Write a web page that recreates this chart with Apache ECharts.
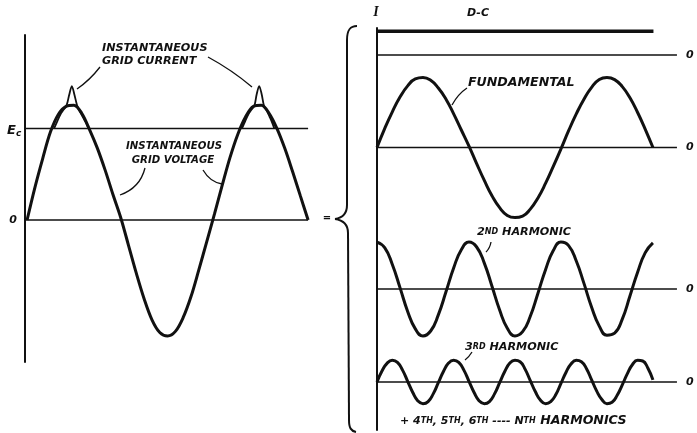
<!DOCTYPE html>
<html><head><meta charset="utf-8">
<script src="https://cdn.jsdelivr.net/npm/echarts/dist/echarts.min.js"></script>
<style>html,body{margin:0;padding:0;background:#fff}#c{width:697px;height:433px}</style>
</head><body><div id="c"></div>
<script>
// ---- phase positions (electrical degrees) ----
const phase15 = [0,15,30,45,60,75,90,105,120,135,150,165,180,195,210,225,240,255,270,285,300,315,330,345,360,375,390,405,420,435,450,465,480,495,510,525,540];
const phase10 = [0,10,20,30,40,50,60,70,80,90,100,110,120,130,140,150,160,170,180,190,200,210,220,230,240,250,260,270,280,290,300,310,320,330,340,350,360,370,380,390,400,410,420,430,440,450,460,470,480,490,500,510,520,530,540];

// ---- left panel: instantaneous grid voltage (relative units) ----
const gridVoltage = [0,0.28,0.53,0.76,0.91,0.98,0.99,0.92,0.78,0.62,0.43,0.22,0.02,-0.22,-0.46,-0.68,-0.86,-0.97,-1.0,-0.96,-0.84,-0.66,-0.43,-0.19,0.05,0.3,0.54,0.74,0.89,0.98,0.99,0.92,0.79,0.62,0.42,0.21,0];
const ecLevel = 0.79;
// instantaneous grid current pulses [phase, value]
const currentPulse1 = [[52,0.79],[58,0.85],[64,0.91],[70,0.95],[76,0.99],[81,1.08],[86,1.155],[91,1.08],[96,0.99],[102,0.93],[108,0.88],[113,0.84],[118,0.79]];
const currentPulse2 = [[413,0.79],[419,0.85],[425,0.91],[431,0.95],[437,0.99],[441,1.08],[446,1.155],[451,1.08],[455,0.99],[461,0.94],[466,0.89],[470,0.85],[475,0.79]];

// ---- right panel: components ----
const dcLevel = 0.34;
const fundamental = [0,0.27,0.51,0.72,0.88,0.98,1.0,0.96,0.85,0.69,0.48,0.25,0.02,-0.23,-0.47,-0.69,-0.86,-0.97,-1.0,-0.98,-0.88,-0.72,-0.51,-0.27,-0.02,0.24,0.48,0.69,0.86,0.97,1.0,0.97,0.87,0.71,0.5,0.26,0];
const harmonic2 = [0.67,0.59,0.35,0.02,-0.32,-0.57,-0.67,-0.6,-0.37,-0.04,0.3,0.56,0.67,0.6,0.37,0.04,-0.3,-0.56,-0.67,-0.61,-0.39,-0.06,0.28,0.55,0.67,0.62,0.4,0.08,-0.26,-0.53,-0.66,-0.63,-0.43,-0.1,0.24,0.52,0.66];
const harmonic3 = [0,0.16,0.27,0.31,0.28,0.17,0.01,-0.15,-0.27,-0.31,-0.28,-0.17,-0.01,0.15,0.27,0.31,0.28,0.17,0.01,-0.15,-0.27,-0.31,-0.28,-0.17,-0.01,0.15,0.27,0.31,0.29,0.18,0.02,-0.14,-0.26,-0.31,-0.28,-0.18,-0.02,0.14,0.26,0.31,0.29,0.19,0.03,-0.13,-0.25,-0.31,-0.29,-0.19,-0.04,0.12,0.25,0.31,0.3,0.2,0.03];

const leftSpan = [-4, 540];
const dcSpan = [0, 541];
const baseSpan = [0, 587];

// ---- build ----
const INK = '#111';
const FONT = 'DejaVu Sans';
const zip = (xs, ys) => xs.map((x, i) => [x, ys[i]]);
const hx = (g, min, max) => ({type:'value', gridIndex:g, min, max, show:false});
const hy = (g, min, max) => ({type:'value', gridIndex:g, min, max, show:false});
const frameY = (g, min, max, w) => ({type:'value', gridIndex:g, min, max,
  axisLine:{show:true, onZero:false, lineStyle:{color:INK, width:w}},
  axisTick:{show:false}, axisLabel:{show:false}, splitLine:{show:false}});
const line = (g, data, width, extra) => Object.assign({
  type:'line', xAxisIndex:g, yAxisIndex:g, data, symbol:'none', clip:false,
  silent:true, lineStyle:{color:INK, width}}, extra || {});
const zeroLabel = {show:true, formatter:'0', color:INK, fontFamily:FONT, fontStyle:'italic',
  fontWeight:'bold', fontSize:11, distance:9};
const txt = (x, y, text, size, align, extra) => ({type:'text', x, y, silent:true,
  style:Object.assign({text, fill:INK, fontFamily:FONT, fontStyle:'italic', fontWeight:'bold',
  fontSize:size, textAlign:align || 'left', textVerticalAlign:'middle'}, extra || {})});
const curve = (x1,y1,cx,cy,x2,y2,w) => ({type:'bezierCurve', silent:true,
  shape:{x1,y1,x2,y2,cpx1:cx,cpy1:cy}, style:{stroke:INK, lineWidth:w||1.3, fill:null}});
const cubic = (x1,y1,c1x,c1y,c2x,c2y,x2,y2,w) => ({type:'bezierCurve', silent:true,
  shape:{x1,y1,x2,y2,cpx1:c1x,cpy1:c1y,cpx2:c2x,cpy2:c2y}, style:{stroke:INK, lineWidth:w||2, fill:null}});
const seg = (x1,y1,x2,y2,w) => ({type:'line', silent:true, shape:{x1,y1,x2,y2}, style:{stroke:INK, lineWidth:w||2}});

const pxW = 0.511; // right panel px per degree (layout)
const option = {
  animation:false,
  backgroundColor:'#fff',
  grid:[
    {left:25, top:35, width:283.1, height:327},
    {left:377, top:28, width:590*pxW, height:402},
    {left:377, top:13, width:590*pxW, height:56},
    {left:377, top:70.5, width:590*pxW, height:154},
    {left:377, top:233, width:590*pxW, height:112},
    {left:377, top:354, width:590*pxW, height:56}
  ],
  xAxis:[hx(0,-4,540), hx(1,0,590), hx(2,0,590), hx(3,0,590), hx(4,0,590), hx(5,0,590)],
  yAxis:[frameY(0,-1.224,1.595,2), frameY(1,0,1,2), hy(2,-0.2,0.6), hy(3,-1.1,1.1), hy(4,-0.8,0.8), hy(5,-0.4,0.4)],
  series:[
    line(0, [[leftSpan[0],0],[leftSpan[1],0]], 1.5),
    line(0, [[leftSpan[0],ecLevel],[leftSpan[1],ecLevel]], 1.5),
    line(0, zip(phase15, gridVoltage), 3, {smooth:0.35}),
    line(0, currentPulse1, 1.8, {smooth:0.3}),
    line(0, currentPulse2, 1.8, {smooth:0.3}),
    line(2, [[dcSpan[0],dcLevel],[dcSpan[1],dcLevel]], 3.5),
    line(2, [[baseSpan[0],0],[baseSpan[1],0]], 1.5, {endLabel:zeroLabel}),
    line(3, [[baseSpan[0],0],[baseSpan[1],0]], 1.5, {endLabel:zeroLabel}),
    line(3, zip(phase15, fundamental), 3, {smooth:0.5}),
    line(4, [[baseSpan[0],0],[baseSpan[1],0]], 1.5, {endLabel:zeroLabel}),
    line(4, zip(phase15, harmonic2), 3, {smooth:0.5}),
    line(5, [[baseSpan[0],0],[baseSpan[1],0]], 1.5, {endLabel:zeroLabel}),
    line(5, zip(phase10, harmonic3), 3, {smooth:0.5})
  ],
  graphic:[
    txt(102, 48, 'INSTANTANEOUS', 11.2),
    txt(102, 61, 'GRID CURRENT', 11.2),
    txt(174, 146, 'INSTANTANEOUS', 10.2, 'center'),
    txt(173, 160, 'GRID VOLTAGE', 10.2, 'center'),
    txt(7, 131, '{e|E}{c|c}', 13, 'left', {rich:{e:{fontFamily:FONT,fontStyle:'italic',fontWeight:'bold',fontSize:13,fill:INK},
      c:{fontFamily:FONT,fontStyle:'italic',fontWeight:'bold',fontSize:9,fill:INK,padding:[5,0,0,0]}}}),
    txt(13, 220, '0', 11, 'center'),
    txt(327, 218, '=', 10, 'center'),
    txt(376, 12, 'I', 14, 'center', {fontFamily:'Liberation Serif'}),
    txt(478, 13, 'D-C', 11, 'center'),
    txt(468, 83, 'FUNDAMENTAL', 12.6),
    txt(477, 232, '{n|2}{s|ND}{n| HARMONIC}', 11.2, 'left', {rich:{
      n:{fontFamily:FONT,fontStyle:'italic',fontWeight:'bold',fontSize:11.2,fill:INK},
      s:{fontFamily:FONT,fontStyle:'italic',fontWeight:'bold',fontSize:8,fill:INK}}}),
    txt(465, 347, '{n|3}{s|RD}{n| HARMONIC}', 11.2, 'left', {rich:{
      n:{fontFamily:FONT,fontStyle:'italic',fontWeight:'bold',fontSize:11.2,fill:INK},
      s:{fontFamily:FONT,fontStyle:'italic',fontWeight:'bold',fontSize:8,fill:INK}}}),
    txt(400, 421, '{n|+ 4}{s|TH}{n|, 5}{s|TH}{n|, 6}{s|TH}{n| ---- N}{s|TH}{h| HARMONICS}', 11, 'left', {rich:{
      n:{fontFamily:FONT,fontStyle:'italic',fontWeight:'bold',fontSize:11,fill:INK},
      s:{fontFamily:FONT,fontStyle:'italic',fontWeight:'bold',fontSize:8,fill:INK},
      h:{fontFamily:FONT,fontStyle:'italic',fontWeight:'bold',fontSize:12.6,fill:INK}}}),
    curve(100,67, 90,80, 77,89),
    curve(208,57, 232,70, 252,87),
    curve(145,168, 140,188, 120,195),
    curve(203,170, 210,182, 222,184),
    curve(467,88, 458,94, 452,105),
    curve(491,242, 490,248, 486,252),
    curve(472,352, 469,357, 465,360),
    // brace
    cubic(357,26, 350,26, 347,30, 347,40),
    seg(347,40, 347,205),
    cubic(347,205, 347,214, 342,218, 335,219),
    cubic(335,219, 342,220, 348,224, 348,233),
    seg(348,233, 349,420),
    cubic(349,420, 349,428, 351,431, 356,432)
  ]
};
const chart = echarts.init(document.getElementById('c'), null, {renderer:'canvas'});
chart.setOption(option);
</script>
</body></html>
